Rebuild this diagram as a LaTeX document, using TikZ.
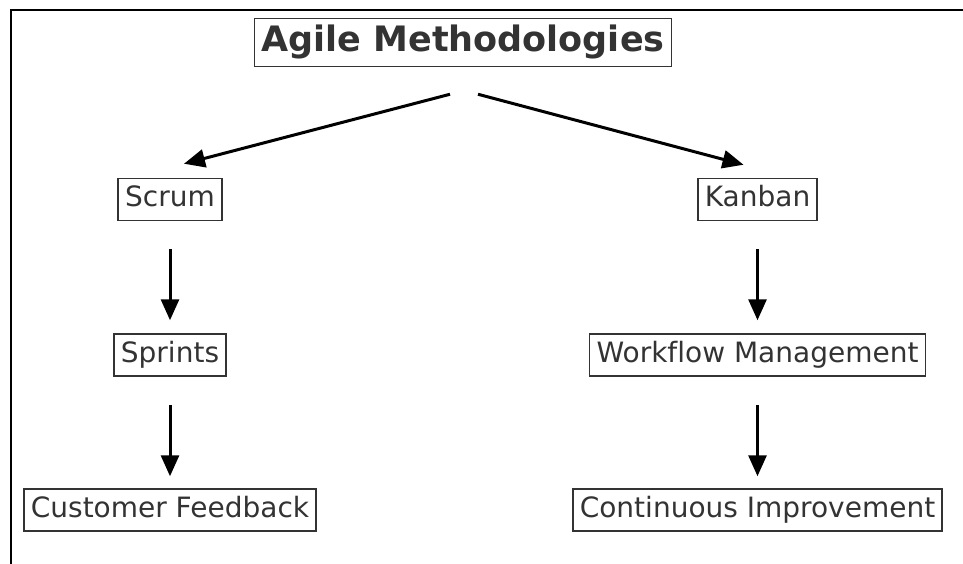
\documentclass[tikz,border=0pt]{standalone}
\usepackage{fontspec}
\setmainfont{DejaVu Sans}[Ligatures=CommonOff]
\usetikzlibrary{arrows.meta}

\definecolor{boxgray}{HTML}{333333}

\tikzset{
    topic/.style={draw=boxgray,line width=1.5pt,text=boxgray,
        font=\fontsize{28}{33}\selectfont,
        text height=20.5pt,text depth=6pt,inner xsep=7pt,inner ysep=7.75pt},
    headtopic/.style={topic,font=\fontsize{35}{42}\selectfont\bfseries,
        text height=26pt,text depth=8pt,inner sep=7pt},
    flow/.style={line width=3pt,-{Triangle[length=21pt,width=18pt]}}
}

\begin{document}
\begin{tikzpicture}[x=1pt,y=-1pt]

            \useasboundingbox (0,0) rectangle (963,564);

            %\draw [help lines] (0,0) grid (963,564);

            % frame, only left and top edges show
            \draw[line width=2pt] (11,564) -- (11,10) -- (963,10);

            \path   (463,42.5)  node (agile) [headtopic] {Agile Methodologies}
                    (170,199.5) node (scrum) [topic] {Scrum}
                    (757.5,199.5) node (kanban) [topic] {Kanban}
                    (170,355) node (sprints) [topic] {Sprints}
                    (757.5,355) node (workflow) [topic] {Workflow Management}
                    (170,510) node (feedback) [topic] {Customer Feedback}
                    (757.5,510) node (improve) [topic] {Continuous Improvement};

            % branches out of the root
            \draw[flow] ([xshift=-13pt,yshift=-27pt]agile.south) -- ([xshift=14pt,yshift=14pt]scrum.north);
            \draw[flow] ([xshift=15pt,yshift=-27pt]agile.south) -- ([xshift=-14pt,yshift=13pt]kanban.north);

            % the two columns
            \draw[flow,shorten <=28pt,shorten >=13pt] (scrum) -- (sprints);
            \draw[flow,shorten <=28pt,shorten >=12pt] (sprints) -- (feedback);
            \draw[flow,shorten <=28pt,shorten >=13pt] (kanban) -- (workflow);
            \draw[flow,shorten <=28pt,shorten >=12pt] (workflow) -- (improve);

        \end{tikzpicture}
\end{document}
